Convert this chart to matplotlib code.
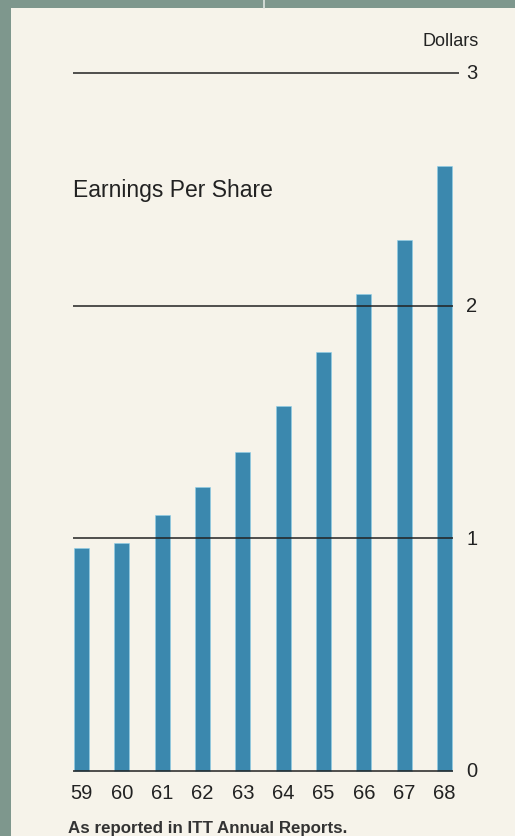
import matplotlib
matplotlib.use("Agg")
import matplotlib.pyplot as plt
from matplotlib.patches import Rectangle
from matplotlib.lines import Line2D

years = ["59", "60", "61", "62", "63", "64", "65", "66", "67", "68"]
eps = [0.96, 0.98, 1.10, 1.22, 1.37, 1.57, 1.80, 2.05, 2.28, 2.60]
grid_vals = [0, 1, 2, 3]
grid_labels = ["0", "1", "2", "3"]

W, H = 515, 837
panel = "#f6f3ea"
border = "#7e978d"
bar_col = "#3b88ae"
ink = "#222222"

plt.rcParams["font.family"] = ["Liberation Sans", "DejaVu Sans"]

fig = plt.figure(figsize=(W / 100, H / 100), dpi=100)
fig.patch.set_facecolor(panel)

# green-grey frame strips (top and left)
fig.patches.append(Rectangle((0, 1 - 9 / H), 1, 9 / H, transform=fig.transFigure,
                             facecolor=border, edgecolor="none", zorder=0))
fig.patches.append(Rectangle((0, 0), 11 / W, 1, transform=fig.transFigure,
                             facecolor=border, edgecolor="none", zorder=0))
fig.lines.append(Line2D([264 / W, 264 / W], [1 - 9 / H, 1], transform=fig.transFigure,
                        color="#dfe6e2", lw=1.2))

# axes placed in pixel terms: bar centres at 81.5 + 40.33*i, zero at y=772, 232.7 px per dollar
px_l, px_r, py_b, py_t = 60, 500, 790, 20
ax = fig.add_axes([px_l / W, 1 - py_b / H, (px_r - px_l) / W, (py_b - py_t) / H])
ax.set_facecolor("none")
ax.set_xlim((px_l - 81.5) / 40.33, (px_r - 81.5) / 40.33)
ax.set_ylim((772 - py_b) / 232.7, (772 - py_t) / 232.7)
ax.axis("off")

x = list(range(len(years)))
ax.bar(x, eps, width=0.37, color=bar_col, edgecolor="#8fd0ea", linewidth=0.4, zorder=2)

for v in grid_vals:
    x_end = 9.36 if v == 3 else 9.21
    ax.hlines(v, -0.21, x_end, color="#222222", lw=1.1, zorder=3)
for v, lab in zip(grid_vals, grid_labels):
    ax.text(9.68, v, lab, ha="center", va="center", fontsize=14.5, color=ink)

for xi, lab in zip(x, years):
    ax.text(xi, -0.093, lab, ha="center", va="center", fontsize=14.5, color=ink)

ax.text(9.86, 3.14, "Dollars", ha="right", va="center", fontsize=13, color=ink)
ax.text(-0.22, 2.47, "Earnings Per Share", ha="left", va="baseline", fontsize=16.5, color=ink)

fig.text(68 / W, 1 - 833 / H, "As reported in ITT Annual Reports.", ha="left", va="baseline",
         fontsize=12.2, fontweight="bold", color="#333333")

fig.savefig("out.png", dpi=100, facecolor=panel)
